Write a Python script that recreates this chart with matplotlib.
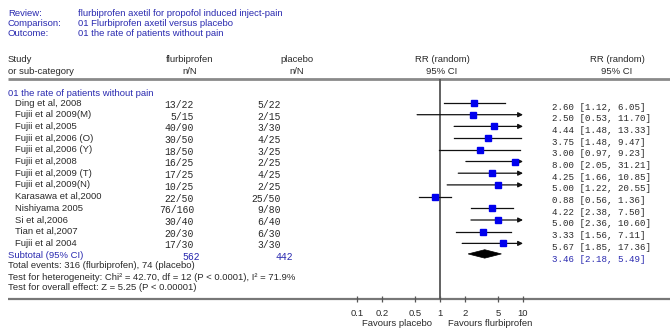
import numpy as np
import matplotlib
matplotlib.use("Agg")
import matplotlib.pyplot as plt
from matplotlib.patches import Polygon

# ---------------- data ----------------
studies = ["Ding et al, 2008", "Fujii et al 2009(M)", "Fujii et al,2005",
           "Fujii et al,2006 (O)", "Fujii et al,2006 (Y)", "Fujii et al,2008",
           "Fujii et al,2009 (T)", "Fujii et al,2009(N)", "Karasawa et al,2000",
           "Nishiyama 2005", "Si et al,2006", "Tian et al,2007", "Fujii et al 2004"]
flur_nN = ["13/22", "5/15", "40/90", "30/50", "18/50", "16/25", "17/25",
           "10/25", "22/50", "76/160", "30/40", "20/30", "17/30"]
plac_nN = ["5/22", "2/15", "3/30", "4/25", "3/25", "2/25", "4/25",
           "2/25", "25/50", "9/80", "6/40", "6/30", "3/30"]
rr = [2.60, 2.50, 4.44, 3.75, 3.00, 8.00, 4.25, 5.00, 0.88, 4.22, 5.00, 3.33, 5.67]
ci_lo = [1.12, 0.53, 1.48, 1.48, 0.97, 2.05, 1.66, 1.22, 0.56, 2.38, 2.36, 1.56, 1.85]
ci_hi = [6.05, 11.70, 13.33, 9.47, 9.23, 31.21, 10.85, 20.55, 1.36, 7.50, 10.60, 7.11, 17.36]
sub_rr, sub_lo, sub_hi = 3.46, 2.18, 5.49
sub_flur_N, sub_plac_N = "562", "442"
tick_vals = [0.1, 0.2, 0.5, 1, 2, 5, 10]
tick_labels = ["0.1", "0.2", "0.5", "1", "2", "5", "10"]

header_rows = [("Review:", "flurbiprofen axetil for propofol induced inject-pain"),
               ("Comparison:", "01 Flurbiprofen axetil versus placebo"),
               ("Outcome:", "01 the rate of patients without pain")]

# ---------------- layout ----------------
W, H = 670, 333
fig = plt.figure(figsize=(W / 100, H / 100), dpi=100)
fig.patch.set_facecolor("white")

bg = fig.add_axes([0, 0, 1, 1])
bg.set_xlim(0, W)
bg.set_ylim(H, 0)
bg.axis("off")

BLUE = "#2a2ab0"
DARK = "#2a2a2a"
SANS = ["Liberation Sans", "DejaVu Sans"]
MONO = ["Liberation Mono", "DejaVu Sans Mono"]
fs = 6.8
fm = 6.6

row0, dy = 103.0, 11.7
def rowpx(i):
    return row0 + dy * i

# header block
for k, (lab, val) in enumerate(header_rows):
    y = 13 + 10.5 * k
    bg.text(8, y, lab, color=BLUE, fontsize=fs, family=SANS, va="center")
    bg.text(78, y, val, color=BLUE, fontsize=fs, family=SANS, va="center")

# column headers
bg.text(8, 60, "Study", color=DARK, fontsize=fs, family=SANS, va="center")
bg.text(8, 71, "or sub-category", color=DARK, fontsize=fs, family=SANS, va="center")
for x, t in [(190, "flurbiprofen"), (297, "placebo"), (442, "RR (random)"), (617, "RR (random)")]:
    bg.text(x, 60, t, color=DARK, fontsize=fs, family=SANS, va="center", ha="center")
for x, t in [(190, "n/N"), (297, "n/N"), (442, "95% CI"), (617, "95% CI")]:
    bg.text(x, 71, t, color=DARK, fontsize=fs, family=SANS, va="center", ha="center")

bg.plot([8, W], [79, 79], color="#8a8a8a", lw=2.0, solid_capstyle="butt")
bg.plot([8, W], [299, 299], color="#777777", lw=1.6, solid_capstyle="butt")

bg.text(8, 94, "01 the rate of patients without pain", color=BLUE, fontsize=fs,
        family=SANS, va="center")

for i, name in enumerate(studies):
    y = rowpx(i)
    bg.text(15, y, name, color=DARK, fontsize=fs, family=SANS, va="center")
    bg.text(194, y + 2, flur_nN[i], color=DARK, fontsize=fm + 0.4, family=MONO,
            va="center", ha="right")
    bg.text(281, y + 2, plac_nN[i], color=DARK, fontsize=fm + 0.4, family=MONO,
            va="center", ha="right")
    bg.text(552, y + 4, f"{rr[i]:.2f} [{ci_lo[i]:.2f}, {ci_hi[i]:.2f}]",
            color=DARK, fontsize=fm, family=MONO, va="center")

ys = rowpx(len(studies))
bg.text(8, ys, "Subtotal (95% CI)", color=BLUE, fontsize=fs, family=SANS, va="center")
bg.text(200, ys + 2, sub_flur_N, color=BLUE, fontsize=fm + 0.4, family=MONO, va="center", ha="right")
bg.text(293, ys + 2, sub_plac_N, color=BLUE, fontsize=fm + 0.4, family=MONO, va="center", ha="right")
bg.text(552, ys + 4, f"{sub_rr:.2f} [{sub_lo:.2f}, {sub_hi:.2f}]",
        color=BLUE, fontsize=fm, family=MONO, va="center")

bg.text(8, 266, "Total events: 316 (flurbiprofen), 74 (placebo)", color=DARK,
        fontsize=fs, family=SANS, va="center")
bg.text(8, 277.5, "Test for heterogeneity: Chi\u00b2 = 42.70, df = 12 (P < 0.0001), I\u00b2 = 71.9%",
        color=DARK, fontsize=fs, family=SANS, va="center")
bg.text(8, 288, "Test for overall effect: Z = 5.25 (P < 0.00001)", color=DARK,
        fontsize=fs, family=SANS, va="center")

bg.text(397, 324, "Favours placebo", color=DARK, fontsize=fs, family=SANS,
        va="center", ha="center")
bg.text(490, 324, "Favours flurbiprofen", color=DARK, fontsize=fs, family=SANS,
        va="center", ha="center")

# ---------------- forest axes ----------------
x1px, dec = 440.0, 83.0
axL, axR, axT, axB = 340.0, 545.0, 79.0, 299.0
ax = fig.add_axes([axL / W, 1 - axB / H, (axR - axL) / W, (axB - axT) / H])
ax.set_xscale("log")
ax.set_xlim(10 ** ((axL - x1px) / dec), 10 ** ((axR - x1px) / dec))
ax.set_ylim((axB - row0) / dy, (axT - row0) / dy)
ax.patch.set_alpha(0)
for s in ["top", "left", "right", "bottom"]:
    ax.spines[s].set_visible(False)
ax.set_yticks([])
ax.set_xticks(tick_vals)
ax.set_xticklabels(tick_labels, fontsize=fs, family=SANS, color=DARK)
ax.minorticks_off()
ax.tick_params(axis="x", direction="inout", length=4, width=0.9, color="#555555", pad=5)

ax.axvline(1, color="#555555", lw=1.3)

xmax_clip = 10
for i in range(len(studies)):
    lo, hi = ci_lo[i], ci_hi[i]
    if hi > xmax_clip:
        ax.annotate("", xy=(xmax_clip, i), xytext=(lo, i),
                    arrowprops=dict(arrowstyle="-|>", color="#111111", lw=0.9,
                                    mutation_scale=7, shrinkA=0, shrinkB=0))
    else:
        ax.plot([lo, hi], [i, i], color="#111111", lw=0.9)
    ax.plot(rr[i], i, "s", color="#0000ee", ms=4.2, mec="#0000ee", zorder=5)

isub = len(studies)
dh = 0.36
ax.add_patch(Polygon([(sub_lo, isub - 0.1), (sub_rr, isub - 0.1 - dh),
                      (sub_hi, isub - 0.1), (sub_rr, isub - 0.1 + dh)],
                     closed=True, facecolor="black", edgecolor="black", lw=0.5))

fig.savefig("out.png", dpi=100, facecolor="white")
